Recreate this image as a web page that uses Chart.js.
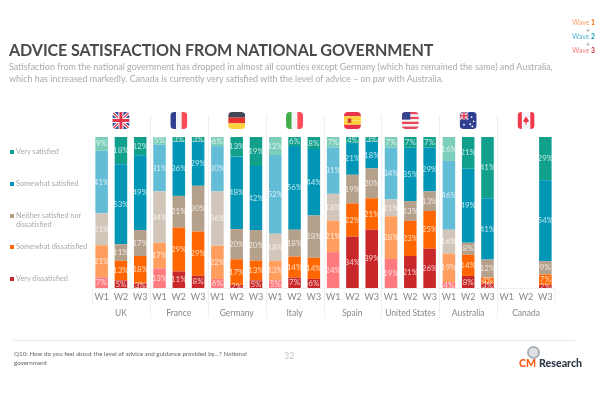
<!DOCTYPE html>
<html>
<head>
<meta charset="utf-8">
<script src="https://cdn.jsdelivr.net/npm/chart.js@4"></script>
<style>
  html, body { margin: 0; padding: 0; background: #fff; }
  body { width: 600px; height: 400px; position: relative; overflow: hidden; font-family: Lato, sans-serif; }
  #chart { position: absolute; left: 0; top: 0; }
  .t { position: absolute; white-space: nowrap; }
  .sq { position: absolute; left: 10px; width: 4px; height: 4px; }
  .lg { left: 16px; font-size: 7.3px; line-height: 8.5px; color: #aaa; }
  .wave { left: 560px; width: 35px; text-align: right; font-size: 6.8px; line-height: 7px; }
</style>
</head>
<body>
<canvas id="chart" width="600" height="400"></canvas>

<div class="t" style="left:9px;top:40px;font-size:16.1px;font-weight:700;color:#4a4a4a;letter-spacing:-0.1px">ADVICE SATISFACTION FROM NATIONAL GOVERNMENT</div>
<div class="t" style="left:9px;top:61px;font-size:8.95px;line-height:12px;color:#aaa">Satisfaction from the national government has dropped in almost all counties except Germany (which has remained the same) and Australia,<br>which has increased markedly. Canada is currently very satisfied with the level of advice – on par with Australia.</div>

<div class="t wave" style="top:19px;color:#ff9a66">Wave <b style="color:#ff6600">1</b></div>
<div class="t wave" style="top:27px;color:#888;width:30px">+</div>
<div class="t wave" style="top:33px;color:#55b8d4">Wave <b style="color:#0296b6">2</b></div>
<div class="t wave" style="top:41px;color:#888;width:30px">+</div>
<div class="t wave" style="top:47px;color:#f47c7c">Wave <b style="color:#c8282a">3</b></div>

<div class="sq" style="top:150px;background:#10a08c"></div><div class="t lg" style="top:148px">Very satisfied</div>
<div class="sq" style="top:182px;background:#0296b6"></div><div class="t lg" style="top:180px">Somewhat satisfied</div>
<div class="sq" style="top:214px;background:#b5a08c"></div><div class="t lg" style="top:212px">Neither satisfied nor<br>dissatisfied</div>
<div class="sq" style="top:245px;background:#ff6600"></div><div class="t lg" style="top:243px">Somewhat dissatisfied</div>
<div class="sq" style="top:277px;background:#c8282a"></div><div class="t lg" style="top:275px">Very dissatisfied</div>

<div style="position:absolute;left:14px;top:340px;width:561px;height:1px;background:#e8e8e8"></div>
<div class="t" style="left:14px;top:349px;font-size:6.25px;line-height:9px;color:#666">Q10: How do you feel about the level of advice and guidance provided by...? National<br>government</div>
<div class="t" style="left:284px;top:350px;font-size:9px;color:#c4c4c4">32</div>
<div class="t" style="left:519px;top:357px;font-size:10.6px;font-weight:900;color:#ff5a14">CM<span style="color:#2f3a48;margin-left:3px">Research</span></div>
<div style="position:absolute;left:527px;top:346px;width:9px;height:9px;border:2px solid #aab0b4;border-radius:50%;background:#dfe2e4"></div>

<script>
const countries = ['UK', 'France', 'Germany', 'Italy', 'Spain', 'United States', 'Australia', 'Canada'];
const waves = ['W1', 'W2', 'W3'];

// bottom of the stack first, three waves per country
const veryDissatisfied = [7, 5, 3, 13, 11, 8, 6, 2, 5, 5, 7, 6, 24, 34, 39, 19, 21, 26, 4, 8, 3, null, null, 2];
const somewhatDissatisfied = [21, 13, 18, 17, 29, 29, 22, 17, 13, 13, 14, 14, 21, 22, 21, 28, 23, 25, 19, 14, 4, null, null, 7];
const neither = [21, 11, 17, 34, 21, 30, 36, 20, 20, 18, 18, 28, 18, 19, 20, 11, 13, 13, 16, 8, 12, null, null, 9];
const somewhatSatisfied = [41, 53, 49, 31, 36, 29, 30, 48, 42, 52, 56, 44, 31, 21, 18, 34, 35, 29, 46, 49, 41, null, null, 54];
const verySatisfied = [9, 18, 12, 5, 3, 3, 6, 13, 19, 12, 6, 8, 7, 4, 3, 7, 7, 7, 16, 21, 41, null, null, 29];

const rows = [
  { label: 'Very dissatisfied', values: veryDissatisfied, light: '#ff7a7e', full: '#c8282a' },
  { label: 'Somewhat dissatisfied', values: somewhatDissatisfied, light: '#ff9e5e', full: '#ff6600' },
  { label: 'Neither satisfied nor dissatisfied', values: neither, light: '#d2c6ba', full: '#b5a08c' },
  { label: 'Somewhat satisfied', values: somewhatSatisfied, light: '#63bdd6', full: '#0296b6' },
  { label: 'Very satisfied', values: verySatisfied, light: '#7ccdba', full: '#10a08c' },
];

// rounded percentages don't always add to 100, the bars all fill the full height
function barTotal(i) {
  return rows.reduce((sum, row) => sum + (row.values[i] || 0), 0);
}

const datasets = rows.map((row) => ({
  label: row.label,
  raw: row.values,
  data: row.values.map((v, i) => (v === null ? null : (v / barTotal(i)) * 100)),
  backgroundColor: row.values.map((v, i) => (i % 3 === 0 ? row.light : row.full)),
  categoryPercentage: 1,
  barPercentage: 0.65,
}));

const barLabels = {
  id: 'barLabels',
  afterDatasetsDraw(chart) {
    const ctx = chart.ctx;
    ctx.save();
    ctx.font = '8px Lato';
    ctx.fillStyle = 'rgba(255,255,255,0.75)';
    ctx.textAlign = 'center';
    ctx.textBaseline = 'middle';
    chart.data.datasets.forEach((ds, d) => {
      chart.getDatasetMeta(d).data.forEach((bar, i) => {
        if (ds.raw[i] === null) return;
        ctx.fillText(ds.raw[i] + '%', bar.x, (bar.y + bar.base) / 2);
      });
    });
    ctx.restore();
  },
};

const groupLines = {
  id: 'groupLines',
  beforeDatasetsDraw(chart) {
    const ctx = chart.ctx;
    const x = chart.scales.x;
    const area = chart.chartArea;
    ctx.save();
    ctx.strokeStyle = '#efefef';
    ctx.lineWidth = 1;
    ctx.beginPath();
    ctx.moveTo(x.left, area.bottom + 0.5);
    ctx.lineTo(x.right, area.bottom + 0.5);
    countries.forEach((c, i) => {
      const px = Math.round(x.left + (x.width * i) / countries.length) + 0.5;
      ctx.moveTo(px, i === 0 ? area.bottom : area.top - 22);
      ctx.lineTo(px, i === 0 ? area.bottom + 17 : area.bottom + 30);
    });
    ctx.moveTo(x.right, area.bottom);
    ctx.lineTo(x.right, area.bottom + 17);
    ctx.stroke();
    ctx.restore();
  },
};

function bands(ctx, x, y, s, colors, vertical) {
  colors.forEach((c, i) => {
    ctx.fillStyle = c;
    if (vertical) ctx.fillRect(x + (s * i) / colors.length, y, s / colors.length, s);
    else ctx.fillRect(x, y + (s * i) / colors.length, s, s / colors.length);
  });
}

function unionJack(ctx, x, y, w, h) {
  ctx.fillStyle = '#2f4a9a';
  ctx.fillRect(x, y, w, h);
  ctx.lineCap = 'butt';
  [['#fff', 3.2], ['#e5334b', 1.2]].forEach(([c, lw]) => {
    ctx.strokeStyle = c;
    ctx.lineWidth = lw * (w / 17);
    ctx.beginPath();
    ctx.moveTo(x, y);
    ctx.lineTo(x + w, y + h);
    ctx.moveTo(x + w, y);
    ctx.lineTo(x, y + h);
    ctx.stroke();
  });
  [['#fff', 5], ['#e5334b', 3]].forEach(([c, lw]) => {
    const t = lw * (w / 17);
    ctx.fillStyle = c;
    ctx.fillRect(x + w / 2 - t / 2, y, t, h);
    ctx.fillRect(x, y + h / 2 - t / 2, w, t);
  });
}

const flagPainters = {
  UK: (ctx, x, y, s) => unionJack(ctx, x, y, s, s),
  France: (ctx, x, y, s) => bands(ctx, x, y, s, ['#2f3f8f', '#f2f4f6', '#ff4a5a'], true),
  Germany: (ctx, x, y, s) => bands(ctx, x, y, s, ['#464655', '#e8352f', '#ffd23c']),
  Italy: (ctx, x, y, s) => bands(ctx, x, y, s, ['#41ad49', '#f2f4f6', '#ff4a5a'], true),
  Spain: (ctx, x, y, s) => {
    bands(ctx, x, y, s, ['#e8354a', '#ffd23c', '#ffd23c', '#e8354a']);
    ctx.fillStyle = '#c8452f';
    ctx.fillRect(x + s * 0.22, y + s * 0.38, s * 0.22, s * 0.26);
  },
  'United States': (ctx, x, y, s) => {
    bands(ctx, x, y, s, ['#e8475a', '#f5f5f5', '#e8475a', '#f5f5f5', '#e8475a', '#f5f5f5', '#e8475a']);
    ctx.fillStyle = '#39448f';
    ctx.fillRect(x, y, s * 0.5, s * 0.45);
  },
  Australia: (ctx, x, y, s) => {
    ctx.fillStyle = '#2f3f8f';
    ctx.fillRect(x, y, s, s);
    unionJack(ctx, x, y, s * 0.5, s * 0.45);
    ctx.fillStyle = '#fff';
    [[0.25, 0.75], [0.7, 0.3], [0.82, 0.55], [0.62, 0.72], [0.75, 0.85]].forEach(([a, b]) => {
      ctx.beginPath();
      ctx.arc(x + s * a, y + s * b, 0.9, 0, Math.PI * 2);
      ctx.fill();
    });
  },
  Canada: (ctx, x, y, s) => {
    ctx.fillStyle = '#f2f4f6';
    ctx.fillRect(x, y, s, s);
    ctx.fillStyle = '#f0394a';
    ctx.fillRect(x, y, s * 0.25, s);
    ctx.fillRect(x + s * 0.75, y, s * 0.25, s);
    ctx.beginPath();
    ctx.moveTo(x + s * 0.5, y + s * 0.25);
    ctx.lineTo(x + s * 0.68, y + s * 0.55);
    ctx.lineTo(x + s * 0.53, y + s * 0.62);
    ctx.lineTo(x + s * 0.53, y + s * 0.75);
    ctx.lineTo(x + s * 0.47, y + s * 0.75);
    ctx.lineTo(x + s * 0.47, y + s * 0.62);
    ctx.lineTo(x + s * 0.32, y + s * 0.55);
    ctx.closePath();
    ctx.fill();
  },
};

const flags = {
  id: 'flags',
  afterDraw(chart) {
    const ctx = chart.ctx;
    const x2 = chart.scales.x2;
    const size = 17;
    countries.forEach((c, i) => {
      const px = x2.getPixelForTick(i) - size / 2;
      const py = chart.chartArea.top - 25;
      ctx.save();
      ctx.beginPath();
      ctx.roundRect(px, py, size, size, 4);
      ctx.clip();
      flagPainters[c](ctx, px, py, size);
      ctx.restore();
    });
  },
};

new Chart(document.getElementById('chart').getContext('2d'), {
  type: 'bar',
  data: {
    labels: countries.flatMap(() => waves),
    datasets: datasets,
  },
  plugins: [groupLines, barLabels, flags],
  options: {
    responsive: false,
    animation: false,
    layout: { padding: { left: 92, right: 45, top: 137, bottom: 72 } },
    plugins: { legend: { display: false }, title: { display: false }, tooltip: { enabled: false } },
    scales: {
      x: {
        stacked: true,
        grid: { display: false, drawTicks: false },
        border: { display: false },
        ticks: { autoSkip: false, maxRotation: 0, color: '#888', font: { family: 'Lato', size: 9 }, padding: 4 },
        afterFit: (scale) => { scale.height = 20; },
      },
      x2: {
        type: 'category',
        labels: countries,
        position: 'bottom',
        offset: true,
        grid: { display: false, drawTicks: false },
        border: { display: false },
        ticks: { color: '#888', font: { family: 'Lato', size: 8.5 }, padding: 0, maxRotation: 0 },
        afterFit: (scale) => { scale.height = 20; },
      },
      y: {
        display: false,
        stacked: true,
        min: 0,
        max: 100,
      },
    },
  },
});
</script>
</body>
</html>
